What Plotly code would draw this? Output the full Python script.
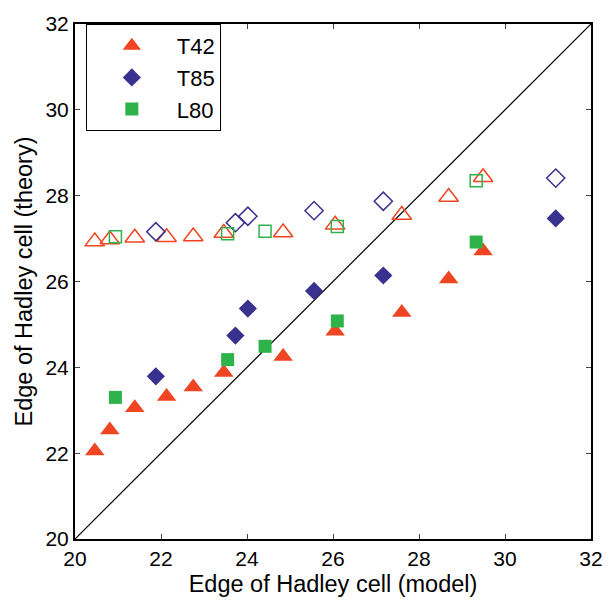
import plotly.graph_objects as go

# ---- data ----
t42_x = [20.46, 20.81, 21.39, 22.13, 22.75, 23.46, 24.84, 26.05, 27.60, 28.69, 29.49]
t42_model_filled = [22.05, 22.54, 23.06, 23.32, 23.54, 23.88, 24.25, 24.84, 25.28, 26.06, 26.71]
t42_theory_open = [26.93, 26.98, 27.02, 27.03, 27.05, 27.13, 27.14, 27.32, 27.55, 27.97, 28.43]

t85_x = [21.88, 23.73, 24.02, 25.56, 27.17, 31.18]
t85_filled = [23.79, 24.74, 25.37, 25.78, 26.14, 27.47]
t85_open = [27.16, 27.37, 27.52, 27.65, 27.87, 28.41]

l80_x = [20.94, 23.55, 24.42, 26.10, 29.33]
l80_filled = [23.30, 24.18, 24.49, 25.08, 26.92]
l80_open = [27.04, 27.11, 27.17, 27.28, 28.35]

diag = [20, 32]
x_ticks = [20, 22, 24, 26, 28, 30, 32]
y_ticks = [20, 22, 24, 26, 28, 30, 32]

RED = "#F04523"
BLUE = "#39318F"
GREEN = "#2DB34A"
FONT = "Liberation Sans, Arial, Helvetica, sans-serif"

fig = go.Figure()

fig.add_trace(go.Scatter(x=diag, y=diag, mode="lines",
                         line=dict(color="black", width=1.2), showlegend=False,
                         hoverinfo="skip"))

# open markers
fig.add_trace(go.Scatter(x=t42_x, y=t42_theory_open, mode="markers", showlegend=False,
                         marker=dict(symbol="triangle-up-open", size=17, color=RED,
                                     line=dict(color=RED, width=1.5))))
fig.add_trace(go.Scatter(x=t85_x, y=t85_open, mode="markers", showlegend=False,
                         marker=dict(symbol="diamond-open", size=14, color=BLUE,
                                     line=dict(color=BLUE, width=1.5))))
fig.add_trace(go.Scatter(x=l80_x, y=l80_open, mode="markers", showlegend=False,
                         marker=dict(symbol="square-open", size=12, color=GREEN,
                                     line=dict(color=GREEN, width=1.5))))

# filled markers
fig.add_trace(go.Scatter(x=t42_x, y=t42_model_filled, mode="markers", name="T42",
                         marker=dict(symbol="triangle-up", size=17, color=RED,
                                     line=dict(width=0))))
fig.add_trace(go.Scatter(x=t85_x, y=t85_filled, mode="markers", name="T85",
                         marker=dict(symbol="diamond", size=14, color=BLUE,
                                     line=dict(width=0))))
fig.add_trace(go.Scatter(x=l80_x, y=l80_filled, mode="markers", name="L80",
                         marker=dict(symbol="square", size=13, color=GREEN,
                                     line=dict(width=0))))

axis_common = dict(
    showgrid=False, zeroline=False, showline=True, linecolor="black", linewidth=2,
    mirror="ticks", ticks="inside", ticklen=5, tickwidth=1, tickcolor="#444",
    tickfont=dict(family=FONT, size=21, color="black"),
)

fig.update_layout(
    width=615, height=605,
    margin=dict(l=75, r=15, t=16, b=66),
    paper_bgcolor="white", plot_bgcolor="white",
    font=dict(family=FONT, color="black"),
    xaxis=dict(range=[20, 32], tickvals=x_ticks,
               title=dict(text="Edge of Hadley cell (model)", font=dict(size=23.5), standoff=6),
               **axis_common),
    yaxis=dict(range=[20, 32], tickvals=y_ticks,
               title=dict(text="Edge of Hadley cell (theory)", font=dict(size=23.5), standoff=6),
               **axis_common),
    legend=dict(x=0.021, y=1.0, xanchor="left", yanchor="top",
                bordercolor="black", borderwidth=1, bgcolor="white",
                font=dict(family=FONT, size=22), itemwidth=80,
                tracegroupgap=0),
    showlegend=True,
)

fig.write_html("out.html")
